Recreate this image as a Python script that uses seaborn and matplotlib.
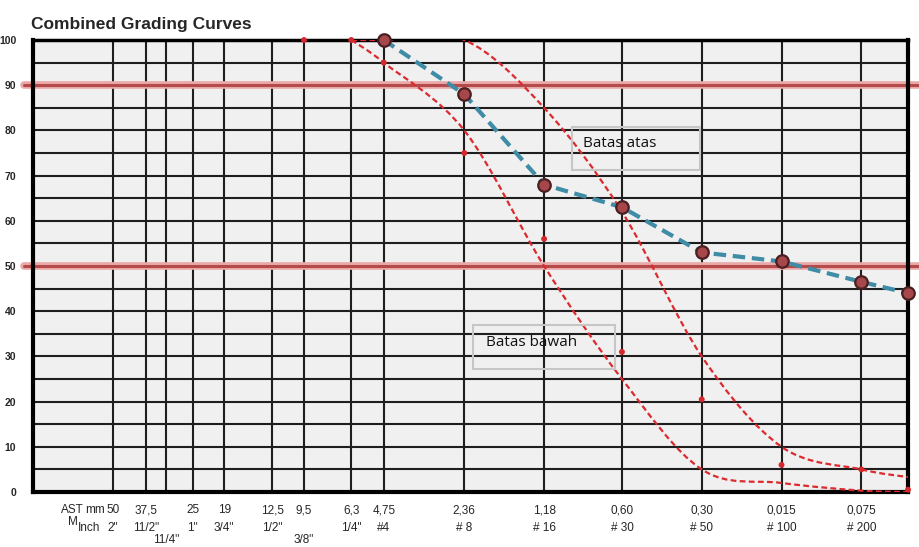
import matplotlib
matplotlib.use("Agg")
import matplotlib.pyplot as plt
import numpy as np
import pandas as pd
import seaborn as sns
from matplotlib import font_manager
from matplotlib.patches import PathPatch, Rectangle
from matplotlib.path import Path
from matplotlib.ticker import NullLocator

# sieve sizes (mm) of the vertical grid lines and their labels
sieve_mm = [50, 37.5, 31.5, 25, 19, 12.5, 9.5, 6.3, 4.75, 2.36, 1.18, 0.60, 0.30, 0.15, 0.075]
label_mm = ["50", "37,5", "", "25", "19", "12,5", "9,5", "6,3", "4,75",
            "2,36", "1,18", "0,60", "0,30", "0,015", "0,075"]
label_inch = ['2"', '11/2"', "", '1"', '3/4"', '1/2"', "", '1/4"', "#4",
              "# 8", "# 16", "# 30", "# 50", "# 100", "# 200"]
label_inch_low = ["", "", '11/4"', "", "", "", '3/8"', "", "", "", "", "", "", "", ""]

# combined grading (% passing); last point is the pan at the right edge
combined_size = [4.75, 2.36, 1.18, 0.60, 0.30, 0.15, 0.075, 0.05]
combined_pass = [100, 88, 68, 63, 53, 51, 46.5, 44]

# specification envelope
upper_size = [6.3, 4.75, 2.36, 1.18, 0.60, 0.30, 0.15, 0.075, 0.05]
upper_pass = [100, 100, 100, 85, 62, 30, 10, 5, 3.3]
lower_size = [6.3, 4.75, 2.36, 1.18, 0.60, 0.30, 0.15, 0.075, 0.05]
lower_pass = [100, 95, 80, 50, 25, 5, 2, 0.3, 0]
spec_size = [9.5, 6.3, 4.75, 2.36, 1.18, 0.60, 0.30, 0.15, 0.075, 0.05]
spec_pass = [100, 100, 95, 75, 56, 31, 20.5, 6, 5, 0.5]

ref_lines = [90, 50]

sns.set_style("white")
names = {f.name for f in font_manager.fontManager.ttflist}
narrow = "Liberation Sans Narrow" if "Liberation Sans Narrow" in names else "Liberation Sans"
plt.rcParams["font.family"] = [narrow, "DejaVu Sans"]


def smooth_path(xs, ys):
    """Catmull-Rom style bezier through the points, built in log-x space"""
    pts = np.column_stack([np.log10(xs), np.asarray(ys, float)])
    n = len(pts)
    verts, codes = [pts[0]], [Path.MOVETO]
    for i in range(n - 1):
        p0, p1 = pts[max(i - 1, 0)], pts[i]
        p2, p3 = pts[i + 1], pts[min(i + 2, n - 1)]
        verts += [p1 + (p2 - p0) / 6, p2 - (p3 - p1) / 6, p2]
        codes += [Path.CURVE4] * 3
    verts = np.array(verts)
    verts[:, 0] = 10 ** verts[:, 0]
    return Path(verts, codes)


fig = plt.figure(figsize=(9.2, 5.47), dpi=100)
ax = fig.add_axes([33 / 920, 55 / 547, 875 / 920, 452 / 547])
ax.set_facecolor("#f0f0f0")
ax.set_xscale("log")
ax.set_xlim(100, 0.05)
ax.set_ylim(0, 100)

# grid
ax.set_xticks(sieve_mm)
ax.xaxis.set_minor_locator(NullLocator())
ax.set_xticklabels([])
ax.set_yticks(range(0, 101, 10))
ax.set_yticks(range(5, 100, 10), minor=True)
ax.grid(True, which="both", axis="both", color="#1e1e1e", lw=1.5, zorder=0.5)
ax.set_axisbelow(True)
ax.tick_params(axis="x", direction="out", length=5, width=1.5, color="#1e1e1e")
ax.tick_params(axis="y", which="major", direction="out", length=5, width=1.5,
               color="#1e1e1e", pad=7, labelsize=7.5)
ax.tick_params(axis="y", which="minor", length=0)
for lab in ax.get_yticklabels():
    lab.set_fontweight("bold")
for side, w in {"left": 3, "bottom": 3, "top": 2.5, "right": 3}.items():
    ax.spines[side].set_visible(True)
    ax.spines[side].set_color("black")
    ax.spines[side].set_linewidth(w)

# reference lines
for yv in ref_lines:
    ax.axhline(yv, xmin=-0.01, xmax=1.014, clip_on=False, color="#eaa9a9", lw=5.5, zorder=2)
    ax.axhline(yv, xmin=-0.01, xmax=1.014, clip_on=False, color="#b54a4a", lw=2.2, zorder=2.1)

# specification envelope
for xs, ys in [(upper_size, upper_pass), (lower_size, lower_pass)]:
    ax.add_patch(PathPatch(smooth_path(xs, ys), fill=False, edgecolor="#dc2a2e",
                           lw=1.6, linestyle=(0, (2.6, 1.5)), zorder=3))

spec_df = pd.DataFrame({"size": spec_size, "pass": spec_pass})
sns.scatterplot(data=spec_df, x="size", y="pass", ax=ax, color="#d9262b", s=18,
                edgecolor="none", zorder=4, clip_on=False, legend=False)

comb_df = pd.DataFrame({"size": combined_size, "pass": combined_pass})
sns.lineplot(data=comb_df, x="size", y="pass", ax=ax, sort=False, color="#3f8ca6",
             lw=3, linestyle=(0, (3, 1.6)), marker="o", markersize=9,
             markerfacecolor="#a5474b", markeredgecolor="#4a1f22", markeredgewidth=1.6,
             zorder=5, clip_on=False)
ax.set_xlabel("")
ax.set_ylabel("")

# annotation boxes
box_font = ["Open Sans", "DejaVu Sans"]
ax.add_patch(Rectangle((0.616, 0.7124), 0.1463, 0.0951, transform=ax.transAxes,
                       fill=False, edgecolor="#c6c6c6", lw=1.5, zorder=3.5))
ax.text(0.6286, 0.772, "Batas atas", transform=ax.transAxes, va="center", ha="left",
        fontsize=11, family=box_font, color="#111111", zorder=6)
ax.add_patch(Rectangle((0.503, 0.272), 0.162, 0.0975, transform=ax.transAxes,
                       fill=False, edgecolor="#c6c6c6", lw=1.5, zorder=3.5))
ax.text(0.5177, 0.330, "Batas bawah", transform=ax.transAxes, va="center", ha="left",
        fontsize=11, family=box_font, color="#111111", zorder=6)

# sieve labels under the axis
xtr = ax.get_xaxis_transform()
for s, a, b, c in zip(sieve_mm, label_mm, label_inch, label_inch_low):
    ax.text(s, -0.040, a, transform=xtr, ha="center", va="center", fontsize=8.5)
    ax.text(s, -0.080, b, transform=xtr, ha="center", va="center", fontsize=8.5)
    ax.text(s, -0.106, c, transform=xtr, ha="center", va="center", fontsize=8.5)
ax.text(0.032, -0.040, "AST", transform=ax.transAxes, ha="left", va="center", fontsize=8.5)
ax.text(0.060, -0.040, "mm", transform=ax.transAxes, ha="left", va="center", fontsize=8.5)
ax.text(0.040, -0.066, "M", transform=ax.transAxes, ha="left", va="center", fontsize=8.5)
ax.text(0.051, -0.080, "Inch", transform=ax.transAxes, ha="left", va="center", fontsize=8.5)

fig.text(31 / 920, 1 - 29 / 547, "Combined Grading Curves", fontsize=12.5,
         fontweight="bold", ha="left", va="baseline")

fig.savefig("out.png", dpi=100, facecolor="white")
